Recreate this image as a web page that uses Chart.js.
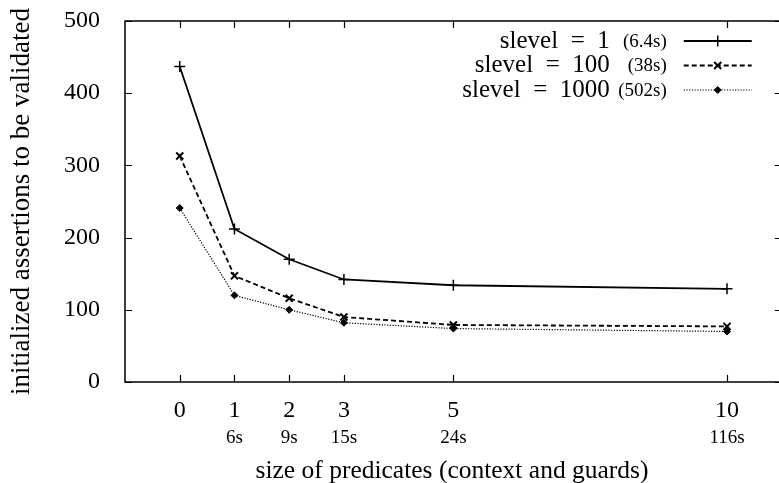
<!DOCTYPE html>
<html>
<head>
<meta charset="utf-8">
<script src="https://cdn.jsdelivr.net/npm/chart.js@4/dist/chart.umd.min.js"></script>
<style>
  html, body { margin: 0; padding: 0; background: #fff; overflow: hidden; }
  canvas { display: block; }
</style>
</head>
<body>
<canvas id="chartAssert" width="779" height="483"></canvas>
<script>
// values
var xValues = [0, 1, 2, 3, 5, 10];
var timeLabels = ['', '6s', '9s', '15s', '24s', '116s'];
var yTicks = [0, 100, 200, 300, 400, 500];
var slevel1 = [437, 212, 170, 142, 134, 129];
var slevel100 = [313, 147, 116, 90, 79, 77];
var slevel1000 = [241, 120, 100, 82, 74, 70];
var seriesNames = ['slevel = 1', 'slevel = 100', 'slevel = 1000'];
var seriesTimes = ['(6.4s)', '(38s)', '(502s)'];

var serif = '"Liberation Serif", "DejaVu Serif", serif';

function toPoints(values) {
  return values.map(function (v, i) {
    return { x: xValues[i], y: v };
  });
}

// no extra padding from label overhang, the layout is fixed by hand
function noPad(scale) {
  scale.paddingTop = 0;
  scale.paddingBottom = 0;
  scale.paddingLeft = 0;
  scale.paddingRight = 0;
}

// frame (its right side at x = 11 sits just past the canvas edge),
// inward tick marks on all four sides, and the legend
var framePlugin = {
  id: 'frame',
  afterDraw: function (chart) {
    var c = chart.ctx;
    var a = chart.chartArea;
    var xs = chart.scales.x;
    var ys = chart.scales.y;
    var right = xs.getPixelForValue(11);
    var len = 7;
    c.save();
    c.strokeStyle = '#000';
    c.lineWidth = 1.5;
    c.strokeRect(a.left, a.top, right - a.left, a.bottom - a.top);
    c.lineWidth = 1.2;
    c.beginPath();
    xValues.forEach(function (v) {
      var px = Math.round(xs.getPixelForValue(v)) + 0.5;
      c.moveTo(px, a.bottom); c.lineTo(px, a.bottom - len);
      c.moveTo(px, a.top); c.lineTo(px, a.top + len);
    });
    yTicks.forEach(function (v) {
      var py = Math.round(ys.getPixelForValue(v)) + 0.5;
      c.moveTo(a.left, py); c.lineTo(a.left + len, py);
      c.moveTo(right, py); c.lineTo(right - len, py);
    });
    c.stroke();

    // legend
    chart.data.datasets.forEach(function (ds, i) {
      var rowY = a.top + 20 + i * 24.5;
      c.fillStyle = '#000';
      c.textBaseline = 'middle';
      c.textAlign = 'right';
      c.font = '25px ' + serif;
      c.fillText(seriesNames[i].replace(' = ', '\u2002=\u2002'), right - 172, rowY);
      c.font = '19px ' + serif;
      c.fillText(seriesTimes[i], right - 115, rowY + 1);

      var x0 = right - 98, x1 = right - 30;
      c.strokeStyle = '#000';
      c.lineWidth = ds.borderWidth;
      c.setLineDash(ds.borderDash || []);
      c.beginPath();
      c.moveTo(x0, rowY); c.lineTo(x1, rowY);
      c.stroke();
      c.setLineDash([]);
      c.lineWidth = ds.pointBorderWidth;
      c.fillStyle = '#000';
      Chart.helpers.drawPoint(c, {
        pointStyle: ds.pointStyle,
        radius: ds.pointRadius,
        rotation: 0,
        borderWidth: ds.pointBorderWidth
      }, (x0 + x1) / 2, rowY);
    });
    c.restore();
  }
};

document.addEventListener('DOMContentLoaded', function () {
  var ctx = document.getElementById('chartAssert');

  new Chart(ctx, {
    type: 'line',
    data: {
      datasets: [
        {
          label: seriesNames[0],
          data: toPoints(slevel1),
          borderColor: '#000',
          backgroundColor: '#000',
          borderWidth: 1.8,
          pointStyle: 'cross',
          pointRadius: 5.5,
          pointBorderWidth: 1.5,
          tension: 0
        },
        {
          label: seriesNames[1],
          data: toPoints(slevel100),
          borderColor: '#000',
          backgroundColor: '#000',
          borderWidth: 1.8,
          borderDash: [5, 3],
          pointStyle: 'crossRot',
          pointRadius: 5,
          pointBorderWidth: 2,
          tension: 0
        },
        {
          label: seriesNames[2],
          data: toPoints(slevel1000),
          borderColor: '#000',
          backgroundColor: '#000',
          borderWidth: 1.2,
          borderDash: [1.2, 1.5],
          pointStyle: 'rectRot',
          pointRadius: 3.5,
          pointBorderWidth: 1,
          tension: 0
        }
      ]
    },
    options: {
      responsive: false,
      animation: false,
      layout: { autoPadding: false, padding: { left: 0, right: 0, top: 21, bottom: 0 } },
      plugins: {
        legend: { display: false },
        tooltip: { enabled: false }
      },
      scales: {
        x: {
          type: 'linear',
          min: -1,
          max: 10.95,
          weight: 0,
          grid: { display: false },
          border: { display: false },
          afterBuildTicks: function (scale) {
            scale.ticks = xValues.map(function (v) { return { value: v }; });
          },
          afterFit: function (scale) { scale.height = 40; noPad(scale); },
          ticks: {
            padding: 6,
            color: '#000',
            maxRotation: 0,
            font: { family: serif, size: 24 }
          }
        },
        xt: {
          type: 'linear',
          position: 'bottom',
          min: -1,
          max: 10.95,
          weight: 1,
          grid: { display: false },
          border: { display: false },
          afterBuildTicks: function (scale) {
            scale.ticks = xValues.map(function (v) { return { value: v }; });
          },
          afterFit: function (scale) { scale.height = 61; noPad(scale); },
          ticks: {
            padding: -3,
            color: '#000',
            maxRotation: 0,
            font: { family: serif, size: 19 },
            callback: function (value) {
              var i = xValues.indexOf(value);
              return i >= 0 ? timeLabels[i] : '';
            }
          },
          title: {
            display: true,
            text: 'size of predicates (context and guards)',
            color: '#000',
            padding: { top: 0, bottom: -4 },
            font: { family: serif, size: 25.5 }
          }
        },
        y: {
          type: 'linear',
          min: 0,
          max: 500,
          grid: { display: false },
          border: { display: false },
          afterBuildTicks: function (scale) {
            scale.ticks = yTicks.map(function (v) { return { value: v }; });
          },
          afterFit: function (scale) { scale.width = 125; noPad(scale); },
          ticks: {
            padding: 17,
            color: '#000',
            font: { family: serif, size: 24 }
          },
          title: {
            display: true,
            text: 'initialized assertions to be validated',
            color: '#000',
            padding: { top: 6, bottom: 0 },
            font: { family: serif, size: 27 }
          }
        }
      }
    },
    plugins: [framePlugin]
  });
});
</script>
</body>
</html>
